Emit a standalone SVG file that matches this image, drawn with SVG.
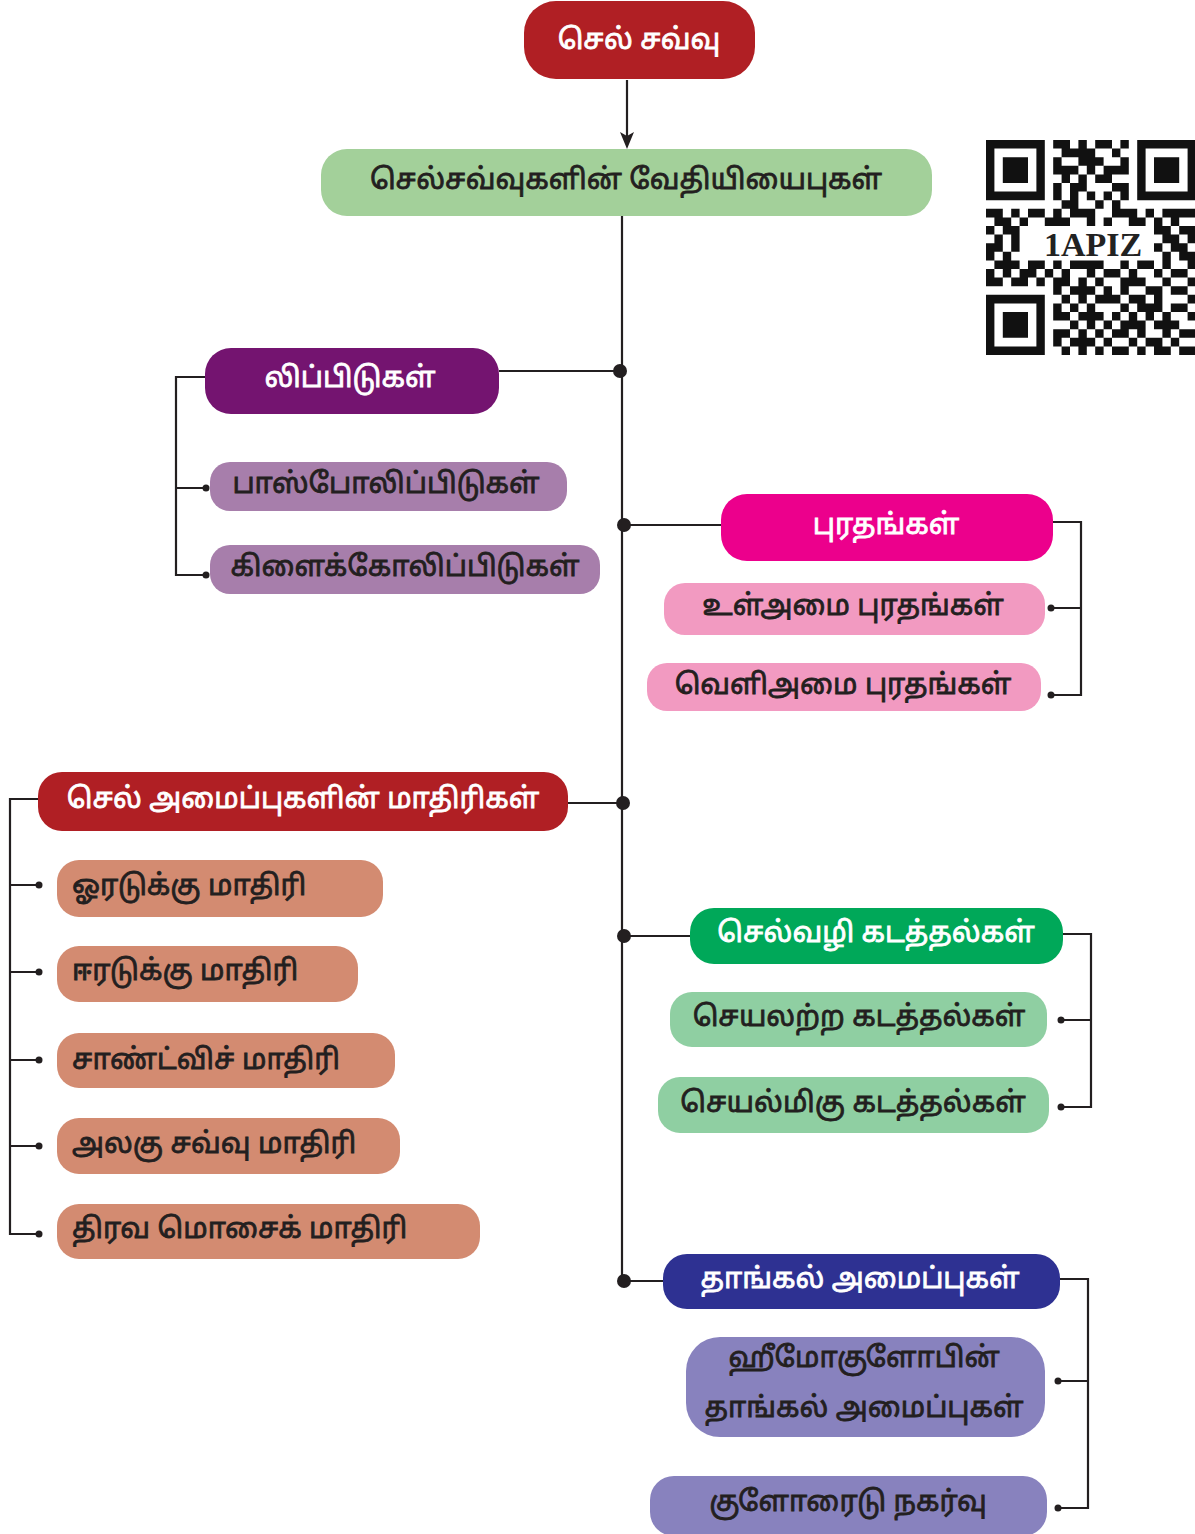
<svg xmlns="http://www.w3.org/2000/svg" width="1195" height="1534" viewBox="0 0 1195 1534">
<style>
text{font-family:"Noto Sans Tamil","Noto Sans","Liberation Sans",sans-serif;font-size:28.5px;text-anchor:middle;dominant-baseline:central;stroke-width:0.8px}
.w{fill:#ffffff;stroke:#ffffff}
.d{fill:#231f20;stroke:#231f20}
.ln{stroke:#231f20;stroke-width:2.2;fill:none}
.dot{fill:#231f20}
</style>
<g id="connectors">
<line class="ln" x1="627" y1="80" x2="627" y2="138"/>
<path d="M620,132 L627,149 L634,132 L627,136 z" fill="#231f20"/>
<line class="ln" x1="622" y1="204" x2="622" y2="1281"/>
<circle class="dot" cx="620" cy="371" r="7"/>
<circle class="dot" cx="624" cy="525" r="7"/>
<circle class="dot" cx="623" cy="803" r="7"/>
<circle class="dot" cx="624" cy="936" r="7"/>
<circle class="dot" cx="624" cy="1281" r="7"/>
<line class="ln" x1="499" y1="371" x2="620" y2="371"/>
<line class="ln" x1="624" y1="525" x2="721" y2="525"/>
<line class="ln" x1="568" y1="803" x2="623" y2="803"/>
<line class="ln" x1="624" y1="936" x2="690" y2="936"/>
<line class="ln" x1="624" y1="1281" x2="663" y2="1281"/>
<path class="ln" d="M205,377 H176 V575 H206 M176,488 H206"/>
<circle class="dot" cx="206" cy="488" r="3.5"/>
<circle class="dot" cx="206" cy="575" r="3.5"/>
<path class="ln" d="M1053,522 H1081 V695 H1051 M1081,608 H1051"/>
<circle class="dot" cx="1051" cy="608" r="3.5"/>
<circle class="dot" cx="1051" cy="695" r="3.5"/>
<path class="ln" d="M38,799 H10 V1234 H39 M10,885 H39 M10,972 H39 M10,1060 H39 M10,1146 H39"/>
<circle class="dot" cx="39" cy="885" r="3.5"/>
<circle class="dot" cx="39" cy="972" r="3.5"/>
<circle class="dot" cx="39" cy="1060" r="3.5"/>
<circle class="dot" cx="39" cy="1146" r="3.5"/>
<circle class="dot" cx="39" cy="1234" r="3.5"/>
<path class="ln" d="M1063,934 H1091 V1107 H1061 M1091,1020 H1061"/>
<circle class="dot" cx="1061" cy="1020" r="3.5"/>
<circle class="dot" cx="1061" cy="1107" r="3.5"/>
<path class="ln" d="M1060,1279 H1088 V1508 H1058 M1088,1381 H1058"/>
<circle class="dot" cx="1058" cy="1381" r="3.5"/>
<circle class="dot" cx="1058" cy="1508" r="3.5"/>
</g>
<g id="n-root"><rect x="524" y="1" width="231" height="78" rx="32" fill="#b01f24"/><text class="w" x="639" y="42">செல் சவ்வு</text></g>
<g id="n-chem"><rect x="321" y="149" width="611" height="67" rx="26" fill="#a3d09a"/><text class="d" x="626" y="182">செல்சவ்வுகளின் வேதியியைபுகள்</text></g>
<g id="n-lipid"><rect x="205" y="348" width="294" height="66" rx="26" fill="#741470"/><text class="w" x="350" y="380">லிப்பிடுகள்</text></g>
<g id="n-phos"><rect x="210" y="462" width="357" height="49" rx="20" fill="#a77eab"/><text class="d" x="386" y="486">பாஸ்போலிப்பிடுகள்</text></g>
<g id="n-glyco"><rect x="210" y="545" width="390" height="49" rx="20" fill="#a77eab"/><text class="d" x="405" y="569">கிளைக்கோலிப்பிடுகள்</text></g>
<g id="n-prot"><rect x="721" y="494" width="332" height="67" rx="26" fill="#ec008c"/><text class="w" x="886" y="527">புரதங்கள்</text></g>
<g id="n-intp"><rect x="664" y="583" width="381" height="52" rx="21" fill="#f29ac1"/><text class="d" x="853" y="608">உள்அமை புரதங்கள்</text></g>
<g id="n-extp"><rect x="647" y="663" width="394" height="48" rx="20" fill="#f29ac1"/><text class="d" x="843" y="687">வெளிஅமை புரதங்கள்</text></g>
<g id="n-models"><rect x="38" y="772" width="530" height="59" rx="24" fill="#b01f24"/><text class="w" x="303" y="801">செல் அமைப்புகளின் மாதிரிகள்</text></g>
<g id="n-m1"><rect x="57" y="860" width="326" height="57" rx="22" fill="#d38b71"/><text class="d" x="72" y="888" style="text-anchor:start">ஓரடுக்கு மாதிரி</text></g>
<g id="n-m2"><rect x="57" y="946" width="301" height="56" rx="22" fill="#d38b71"/><text class="d" x="72" y="973" style="text-anchor:start">ஈரடுக்கு மாதிரி</text></g>
<g id="n-m3"><rect x="57" y="1033" width="338" height="55" rx="22" fill="#d38b71"/><text class="d" x="72" y="1062" style="text-anchor:start">சாண்ட்விச் மாதிரி</text></g>
<g id="n-m4"><rect x="57" y="1118" width="343" height="56" rx="22" fill="#d38b71"/><text class="d" x="72" y="1146" style="text-anchor:start">அலகு சவ்வு மாதிரி</text></g>
<g id="n-m5"><rect x="57" y="1204" width="423" height="55" rx="22" fill="#d38b71"/><text class="d" x="72" y="1231" style="text-anchor:start">திரவ மொசைக் மாதிரி</text></g>
<g id="n-trans"><rect x="690" y="908" width="373" height="56" rx="24" fill="#00a859"/><text class="w" x="876" y="935">செல்வழி கடத்தல்கள்</text></g>
<g id="n-pass"><rect x="670" y="992" width="377" height="55" rx="22" fill="#8fcfa2"/><text class="d" x="859" y="1019">செயலற்ற கடத்தல்கள்</text></g>
<g id="n-act"><rect x="658" y="1077" width="391" height="56" rx="22" fill="#8fcfa2"/><text class="d" x="853" y="1105">செயல்மிகு கடத்தல்கள்</text></g>
<g id="n-buf"><rect x="663" y="1254" width="397" height="55" rx="24" fill="#2e3192"/><text class="w" x="860" y="1281">தாங்கல் அமைப்புகள்</text></g>
<g id="n-hb"><rect x="686" y="1337" width="359" height="100" rx="34" fill="#8882be"/><text class="d" x="864" y="1360">ஹீமோகுளோபின்</text><text class="d" x="864" y="1410">தாங்கல் அமைப்புகள்</text></g>
<g id="n-cl"><rect x="650" y="1476" width="397" height="60" rx="24" fill="#8882be"/><text class="d" x="848" y="1504">குளோரைடு நகர்வு</text></g>
<g id="qr">
<rect x="986" y="140" width="210" height="215" fill="#ffffff"/>
<g transform="translate(986,140) scale(8.4,8.6)" fill="#111111">
<path d="M0 0h7v7h-7z M1 1v5h5v-5z M2 2h3v3h-3z" fill-rule="evenodd"/>
<path d="M18 0h7v7h-7z M19 1v5h5v-5z M20 2h3v3h-3z" fill-rule="evenodd"/>
<path d="M0 18h7v7h-7z M1 19v5h5v-5z M2 20h3v3h-3z" fill-rule="evenodd"/>
<path d="M8 0h2v1h-2z M11 0h1v1h-1z M13 0h2v1h-2z M16 0h1v1h-1z
M9 1h4v1h-4z M15 1h1v1h-1z
M8 2h1v1h-1z M11 2h3v1h-3z M16 2h1v1h-1z
M8 3h3v1h-3z M12 3h1v1h-1z M14 3h3v1h-3z
M9 4h1v1h-1z M11 4h1v1h-1z M13 4h2v1h-2z
M8 5h1v1h-1z M10 5h2v1h-2z M15 5h2v1h-2z
M8 6h1v1h-1z M10 6h1v1h-1z M12 6h1v1h-1z M14 6h1v1h-1z M16 6h1v1h-1z
M9 7h2v1h-2z M13 7h1v1h-1z M15 7h1v1h-1z
M0 8h2v1h-2z M3 8h1v1h-1z M5 8h2v1h-2z M8 8h1v1h-1z M10 8h3v1h-3z M15 8h3v1h-3z M19 8h1v1h-1z M21 8h4v1h-4z
M1 9h2v1h-2z M4 9h1v1h-1z M7 9h3v1h-3z M12 9h1v1h-1z M14 9h1v1h-1z M17 9h2v1h-2z M20 9h1v1h-1z M22 9h1v1h-1z
M0 10h1v1h-1z M2 10h2v1h-2z M20 10h2v1h-2z M23 10h2v1h-2z
M1 11h1v1h-1z M3 11h1v1h-1z M21 11h2v1h-2z M24 11h1v1h-1z
M0 12h2v1h-2z M3 12h1v1h-1z M20 12h1v1h-1z M22 12h2v1h-2z
M0 13h1v1h-1z M2 13h1v1h-1z M21 13h1v1h-1z M23 13h2v1h-2z
M1 14h3v1h-3z M5 14h2v1h-2z M8 14h1v1h-1z M10 14h4v1h-4z M16 14h1v1h-1z M18 14h2v1h-2z M21 14h1v1h-1z M24 14h1v1h-1z
M0 15h1v1h-1z M2 15h1v1h-1z M4 15h2v1h-2z M7 15h1v1h-1z M9 15h1v1h-1z M12 15h1v1h-1z M14 15h2v1h-2z M17 15h1v1h-1z M20 15h1v1h-1z M22 15h2v1h-2z
M0 16h2v1h-2z M3 16h2v1h-2z M6 16h1v1h-1z M8 16h2v1h-2z M11 16h1v1h-1z M13 16h1v1h-1z M16 16h3v1h-3z M21 16h1v1h-1z M24 16h1v1h-1z
M8 17h1v1h-1z M10 17h3v1h-3z M14 17h1v1h-1z M16 17h1v1h-1z M19 17h2v1h-2z M22 17h2v1h-2z
M9 18h1v1h-1z M11 18h1v1h-1z M13 18h3v1h-3z M17 18h2v1h-2z M20 18h1v1h-1z M24 18h1v1h-1z
M8 19h1v1h-1z M10 19h1v1h-1z M12 19h1v1h-1z M16 19h1v1h-1z M18 19h3v1h-3z M22 19h2v1h-2z
M8 20h2v1h-2z M11 20h3v1h-3z M15 20h1v1h-1z M17 20h1v1h-1z M19 20h1v1h-1z M21 20h1v1h-1z M24 20h1v1h-1z
M10 21h1v1h-1z M12 21h1v1h-1z M14 21h1v1h-1z M16 21h3v1h-3z M20 21h3v1h-3z
M8 22h2v1h-2z M11 22h1v1h-1z M13 22h1v1h-1z M15 22h2v1h-2z M18 22h1v1h-1z M21 22h1v1h-1z M23 22h2v1h-2z
M8 23h1v1h-1z M10 23h3v1h-3z M14 23h1v1h-1z M17 23h1v1h-1z M19 23h2v1h-2z M22 23h1v1h-1z
M9 24h1v1h-1z M11 24h1v1h-1z M13 24h1v1h-1z M15 24h2v1h-2z M18 24h1v1h-1z M20 24h2v1h-2z M23 24h2v1h-2z"/>
</g>
<text x="1093" y="244" style="font-family:'Liberation Serif',serif;font-size:34px;font-weight:bold;fill:#222222">1APIZ</text>
</g>
</svg>
